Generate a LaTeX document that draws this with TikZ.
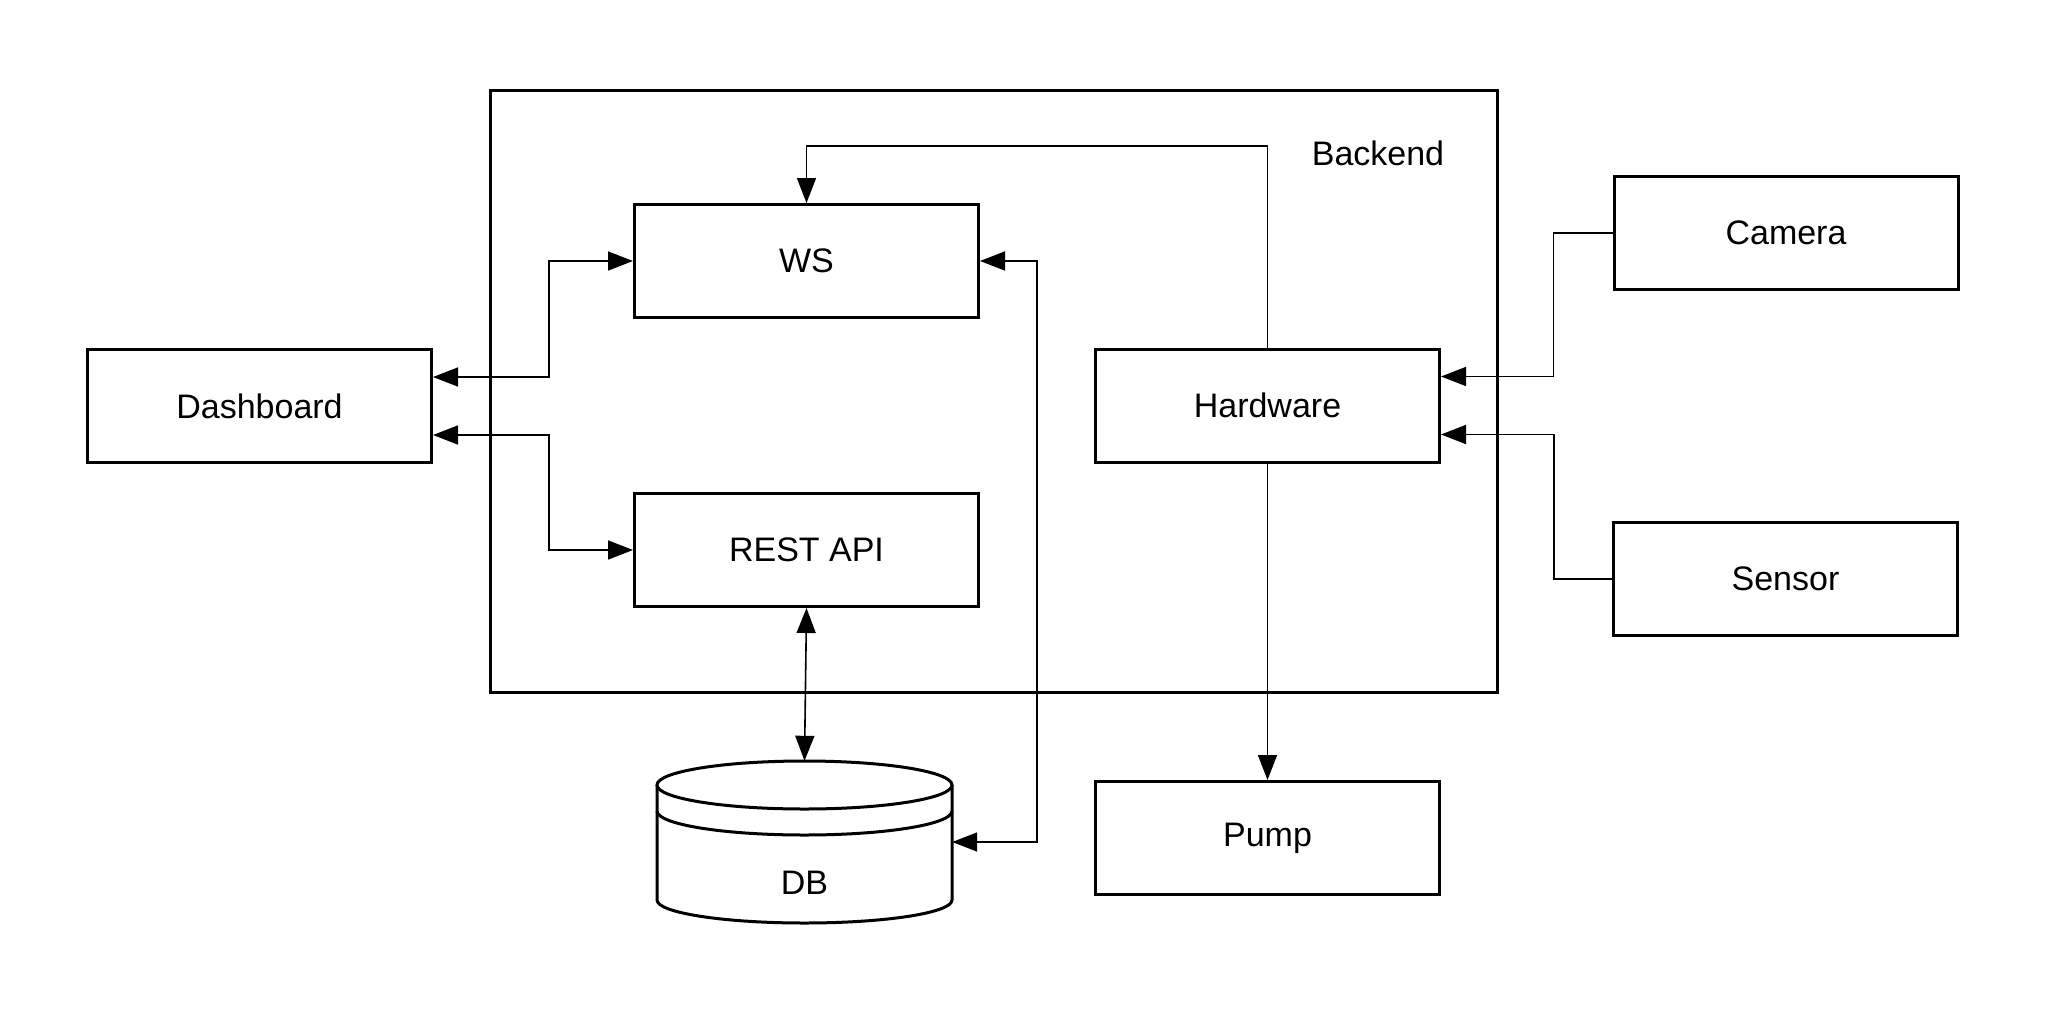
\documentclass[tikz,border=0pt]{standalone}
\usepackage{fontspec}
\setmainfont{Liberation Sans}
\usetikzlibrary{positioning}
\usetikzlibrary{arrows.meta}
\usetikzlibrary{calc}

\tikzset{
  box/.style={draw, line width=3pt, fill=white, minimum width=344pt, minimum height=113pt, inner sep=0pt},
  link/.style={line width=1.6pt, arrows={-Triangle[length=25pt,width=19pt]}},
  biglink/.style={line width=1.6pt, arrows={Triangle[length=25pt,width=19pt]-Triangle[length=25pt,width=19pt]}}
}

\begin{document}
\begin{tikzpicture}[x=1pt, y=-1pt, font=\fontsize{34}{41}\selectfont]
			\useasboundingbox (0,0) rectangle (2048,1012);

			% Define the backend frame
			\node[draw, line width=3pt, minimum width=1007pt, minimum height=602pt, inner sep=0pt] (backend) at (993.5,391) {};
			\node (backendlabel) at (1378,153) {Backend};

			% Define the boxes
			\node[box] (dash) at (259.5,406) {Dashboard};
			\node[box] (ws) at (806.5,261) {WS};
			\node[box] (rest) at (806.5,550) {REST API};
			\node[box] (hw) at (1267.5,405.5) {Hardware};
			\node[box] (cam) at (1786,233) {Camera};
			\node[box] (sens) at (1785.5,579) {Sensor};
			\node[box] (pump) at (1267.5,838) {Pump};

			% Define the database
			\node[minimum width=295pt, minimum height=162pt, inner sep=0pt] (db) at (804.5,842) {};
			\draw[line width=3pt, fill=white] (657,785) -- (657,900)
			  arc[start angle=180, end angle=0, x radius=147.5, y radius=23] -- (952,785);
			\draw[line width=3pt, fill=white] (804.5,785) ellipse[x radius=147.5, y radius=24];
			\draw[line width=3pt] (657,811) arc[start angle=180, end angle=0, x radius=147.5, y radius=24];
			\node (dblabel) at (804.5,883) {DB};

			% Draw the links
			\coordinate (top) at (1267.5,146);
			\draw[biglink] ([yshift=29pt]dash.east) -- ++(116,0) |- (ws.west);
			\draw[biglink] ([yshift=-29pt]dash.east) -- ++(116,0) |- (rest.west);
			\draw[link] (hw.north) -- (top) -| (ws.north);
			\draw[biglink] (ws.east) -- ++(57,0) |- (db.east);
			\draw[biglink] (rest.south) -- (db.north);
			\draw[link] (hw.south) -- (pump.north);
			\draw[link] (cam.west) -- ++(-59,0) |- ([yshift=29pt]hw.east);
			\draw[link] (sens.west) -- ++(-58,0) |- ([yshift=-29pt]hw.east);
\end{tikzpicture}
\end{document}
